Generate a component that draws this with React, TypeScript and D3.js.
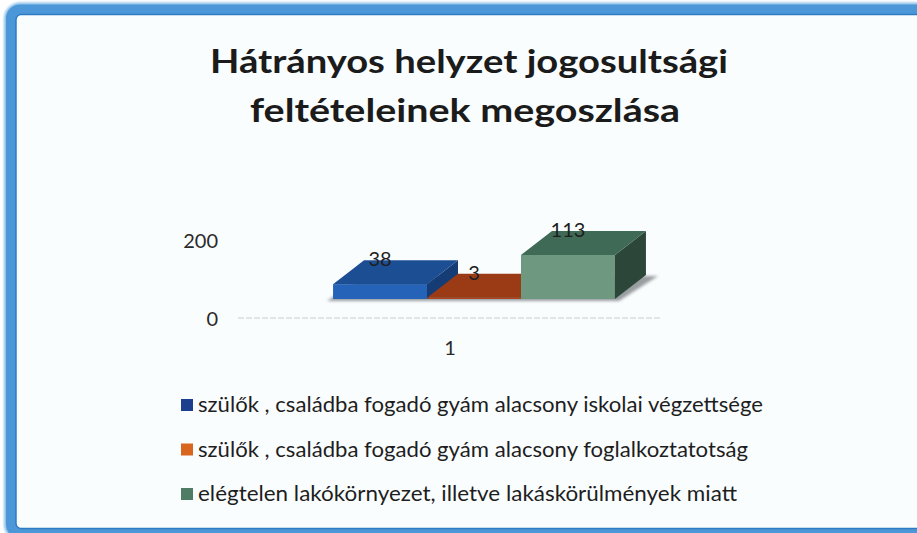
import React from "react";
import * as d3 from "d3";

const titleLines = ["Hátrányos helyzet jogosultsági", "feltételeinek megoszlása"];
const categories = ["1"];
const seriesNames = [
  "szülők , családba fogadó gyám alacsony iskolai végzettsége",
  "szülők , családba fogadó gyám alacsony foglalkoztatotság",
  "elégtelen lakókörnyezet, illetve lakáskörülmények miatt",
];
const seriesValues = [38, 3, 113];
const yTicks = [0, 200];
const frontColors = ["#2563b8", "#a8431b", "#6f9881"];
const topColors = ["#1c4e94", "#9a3b15", "#3f6a56"];
const sideColors = ["#153c74", "#7a2d10", "#2c473a"];
const legendColors = ["#1b3f8c", "#d8661f", "#4f7c65"];

const W = 917;
const H = 533;
const FONT = "Lato, 'Open Sans', sans-serif";

export default function App() {
  const y = d3.scaleLinear().domain([0, 200]).range([318, 240]);
  const xCat = d3.scaleBand().domain(categories).range([238, 660]);
  const bw = xCat.bandwidth();
  const groupW = bw * 0.668;
  const DX = 31;
  const DY = -24;
  const OX = 25;
  const OY = -19;
  const gx0 = (xCat(categories[0]) as number) + (bw - groupW) / 2 + OX;
  const xs = d3.scaleBand().domain(seriesNames).range([gx0, gx0 + groupW]);
  const sw = xs.bandwidth();
  const yb = y(0) + OY;

  const bars = seriesNames.map((name, i) => {
    const x0 = xs(name) as number;
    const x1 = x0 + sw;
    const yt = y(seriesValues[i]) + OY;
    return { name, i, x0, x1, yt };
  });
  const first = bars[0];
  const last = bars[bars.length - 1];
  const line = d3.line();

  const shadowPts: [number, number][] = [
    [first.x0 - 6, yb + 2],
    [last.x1 + 4, yb + 2],
    [last.x1 + DX + 12, yb + DY + 1],
    [first.x0 + DX, yb + DY + 1],
  ];

  return (
    <div style={{ position: "absolute", left: 0, top: 0 }}>
      <svg width={W} height={H} style={{ display: "block", background: "#ffffff" }}>
        <defs>
          <filter id="soft" x="-5%" y="-5%" width="110%" height="110%">
            <feGaussianBlur stdDeviation="1.2" />
          </filter>
          <filter id="sh" x="-10%" y="-50%" width="120%" height="200%">
            <feGaussianBlur stdDeviation="1.5" />
          </filter>
        </defs>
        {/* frame */}
        <rect x={11} y={9.5} width={1000} height={524} rx={9} fill="#fafdfe" stroke="#8cc0ea" strokeWidth={14} filter="url(#soft)" />
        <rect x={11} y={9.5} width={1000} height={524} rx={9} fill="none" stroke="#4c97d7" strokeWidth={10} />
        <rect x={16} y={14.5} width={1000} height={514} rx={5} fill="#fafdfe" stroke="#2e7bc4" strokeWidth={1.5} />

        {/* title */}
        <g fontFamily={FONT} fontWeight="bold" fill="#1b1b1b" fontSize={32}>
          <text x={210} y={73} textLength={518} lengthAdjust="spacingAndGlyphs">{titleLines[0]}</text>
          <text x={250} y={122} textLength={430} lengthAdjust="spacingAndGlyphs">{titleLines[1]}</text>
        </g>

        {/* axis */}
        <line x1={xCat.range()[0]} x2={xCat.range()[1]} y1={y(0)} y2={y(0)} stroke="#c9cdd0" strokeWidth={1} strokeDasharray="6 2" />
        <g fontFamily={FONT} fontSize={20} fill="#2a2a2a">
          {yTicks.map((t) => (
            <text key={t} x={218} y={y(t) + 1} dy="0.36em" textAnchor="end">{t}</text>
          ))}
          {categories.map((c) => (
            <text key={c} x={(xCat(c) as number) + bw / 2 + 1} y={348} dy="0.36em" textAnchor="middle">{c}</text>
          ))}
        </g>

        {/* shadow */}
        <path d={line(shadowPts) + "Z"} fill="#4a4f55" opacity={0.55} filter="url(#sh)" />

        {/* bars */}
        {bars.map((b) => (
          <g key={b.name}>
            <rect x={b.x0} y={b.yt} width={sw} height={yb - b.yt} fill={frontColors[b.i]} />
            <path
              d={line([[b.x1, b.yt], [b.x1, yb], [b.x1 + DX, yb + DY], [b.x1 + DX, b.yt + DY]]) + "Z"}
              fill={sideColors[b.i]}
            />
            <path
              d={line([[b.x0, b.yt], [b.x1, b.yt], [b.x1 + DX, b.yt + DY], [b.x0 + DX, b.yt + DY]]) + "Z"}
              fill={topColors[b.i]}
            />
          </g>
        ))}
        <g fontFamily={FONT} fontSize={20} fill="#1e1e1e" textAnchor="middle">
          {bars.map((b) => (
            <text key={b.name} x={(b.x0 + b.x1) / 2} y={b.yt - 18}>{seriesValues[b.i]}</text>
          ))}
        </g>

        {/* legend */}
        <g fontFamily={FONT} fontSize={20.5} fill="#1e1e1e">
          {seriesNames.map((name, i) => {
            const base = 412 + i * 44.5;
            const lens = [565, 550, 539];
            return (
              <g key={name}>
                <rect x={181} y={base - 13} width={12} height={12} fill={legendColors[i]} />
                <text x={198} y={base} textLength={lens[i]} lengthAdjust="spacingAndGlyphs">{name}</text>
              </g>
            );
          })}
        </g>
      </svg>
    </div>
  );
}
